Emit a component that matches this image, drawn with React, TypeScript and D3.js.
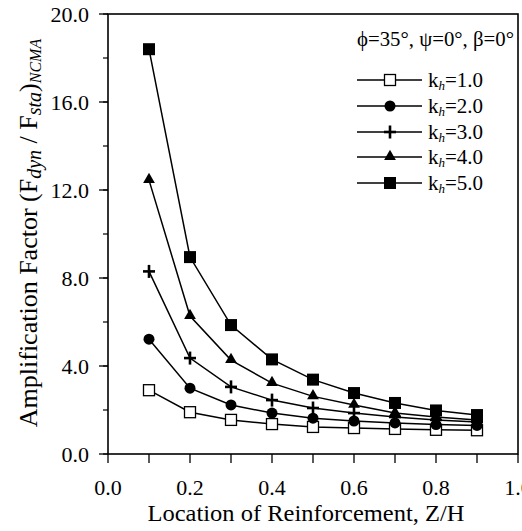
import React from "react";
import * as d3 from "d3";

const W = 522;
const H = 531;

const zh = [0.1, 0.2, 0.3, 0.4, 0.5, 0.6, 0.7, 0.8, 0.9];
const k1 = [2.9, 1.9, 1.55, 1.36, 1.23, 1.18, 1.14, 1.1, 1.08];
const k2 = [5.22, 2.99, 2.23, 1.86, 1.63, 1.5, 1.41, 1.34, 1.3];
const k3 = [8.3, 4.36, 3.05, 2.45, 2.09, 1.86, 1.68, 1.55, 1.45];
const k4 = [12.45, 6.27, 4.27, 3.22, 2.62, 2.23, 1.86, 1.68, 1.55];
const k5 = [18.4, 8.95, 5.86, 4.3, 3.38, 2.77, 2.32, 1.98, 1.77];

const seriesNames = ["1.0", "2.0", "3.0", "4.0", "5.0"];
const seriesValues = [k1, k2, k3, k4, k5];
const markerTypes = ["openSquare", "circle", "plus", "triangle", "square"];

const xTickLabels = ["0.0", "0.2", "0.4", "0.6", "0.8", "1.0"];
const yTickLabels = ["0.0", "4.0", "8.0", "12.0", "16.0", "20.0"];

const FONT = "'Liberation Serif', 'DejaVu Serif', serif";

function Marker({ type, x, y }: { type: string; x: number; y: number }) {
  if (type === "openSquare")
    return <rect x={x - 5.5} y={y - 5.5} width={11} height={11} fill="white" stroke="black" strokeWidth={1.3} />;
  if (type === "circle") return <circle cx={x} cy={y} r={5.5} fill="black" />;
  if (type === "plus")
    return (
      <g stroke="black" strokeWidth={2.6}>
        <line x1={x - 6} x2={x + 6} y1={y} y2={y} />
        <line x1={x} x2={x} y1={y - 6.5} y2={y + 6.5} />
      </g>
    );
  if (type === "triangle") {
    const s = d3.symbol().type(d3.symbolTriangle).size(60)();
    return <path d={s || ""} transform={`translate(${x},${y - 0.5})`} fill="black" />;
  }
  return <rect x={x - 6} y={y - 6} width={12} height={12} fill="black" />;
}

export default function App() {
  const left = 108, right = 518, top = 14, bottom = 454;
  const x = d3.scaleLinear().domain([0, 1]).range([left, right]);
  const y = d3.scaleLinear().domain([0, 20]).range([bottom, top]);
  const line = d3
    .line<number>()
    .x((_, i) => x(zh[i]))
    .y((d) => y(d));

  const xTicks = d3.range(0, 1.0001, 0.1);
  const yMinor = d3.range(0, 20.001, 2);
  const yMajor = d3.range(0, 20.001, 4);

  const legX1 = 357, legX2 = 422, legMX = 390, legTX = 428;
  const legY = [80, 106, 132, 157, 183];

  return (
    <svg width={W} height={H} style={{ position: "absolute", left: 0, top: 0, background: "white" }} fontFamily={FONT}>
      <rect x={0} y={0} width={W} height={H} fill="white" />
      {/* frame */}
      <rect x={left} y={top} width={right - left} height={bottom - top} fill="none" stroke="black" strokeWidth={1.6} />
      {/* x ticks */}
      {xTicks.map((t, i) => (
        <line key={"xt" + i} x1={x(t)} x2={x(t)} y1={bottom} y2={bottom + 9} stroke="black" strokeWidth={1.3} />
      ))}
      {xTickLabels.map((l, i) => (
        <text key={"xl" + i} x={x(i * 0.2)} y={495} fontSize={22} textAnchor="middle">
          {l}
        </text>
      ))}
      {/* y ticks */}
      {yMinor.map((t, i) => (
        <line key={"ymt" + i} x1={left - 5} x2={left} y1={y(t)} y2={y(t)} stroke="black" strokeWidth={1.2} />
      ))}
      {yMajor.map((t, i) => (
        <line key={"yt" + i} x1={left - 9} x2={left} y1={y(t)} y2={y(t)} stroke="black" strokeWidth={1.3} />
      ))}
      {yTickLabels.map((l, i) => (
        <text key={"yl" + i} x={89} y={y(i * 4) + 7.5} fontSize={22} textAnchor="end">
          {l}
        </text>
      ))}
      {/* axis titles */}
      <text x={306} y={521} fontSize={24} textAnchor="middle" textLength={317} lengthAdjust="spacingAndGlyphs">
        Location of Reinforcement, Z/H
      </text>
      <text transform={`translate(37,233) rotate(-90)`} fontSize={26} textAnchor="middle">
        Amplification Factor (F
        <tspan fontStyle="italic" fontSize={20} dy={4}>dyn</tspan>
        <tspan dy={-4}> / F</tspan>
        <tspan fontStyle="italic" fontSize={20} dy={4}>sta</tspan>
        <tspan dy={-4}>)</tspan>
        <tspan fontStyle="italic" fontSize={16} dy={4}>NCMA</tspan>
      </text>
      {/* series */}
      {seriesValues.map((vals, si) => (
        <g key={"s" + si}>
          <path d={line(vals) || ""} fill="none" stroke="black" strokeWidth={1.5} />
          {vals.map((v, i) => (
            <Marker key={i} type={markerTypes[si]} x={x(zh[i])} y={y(v)} />
          ))}
        </g>
      ))}
      {/* annotation */}
      <text x={357} y={46} fontSize={22} textLength={157} lengthAdjust="spacingAndGlyphs">
        ϕ=35°, ψ=0°, β=0°
      </text>
      {/* legend */}
      {seriesNames.map((n, i) => (
        <g key={"lg" + i}>
          <line x1={legX1} x2={legX2} y1={legY[i]} y2={legY[i]} stroke="black" strokeWidth={1.5} />
          <Marker type={markerTypes[i]} x={legMX} y={legY[i]} />
          <text x={legTX} y={legY[i] + 7} fontSize={21}>
            k<tspan fontStyle="italic" fontSize={13} dy={3}>h</tspan>
            <tspan dy={-3}>={n}</tspan>
          </text>
        </g>
      ))}
    </svg>
  );
}
